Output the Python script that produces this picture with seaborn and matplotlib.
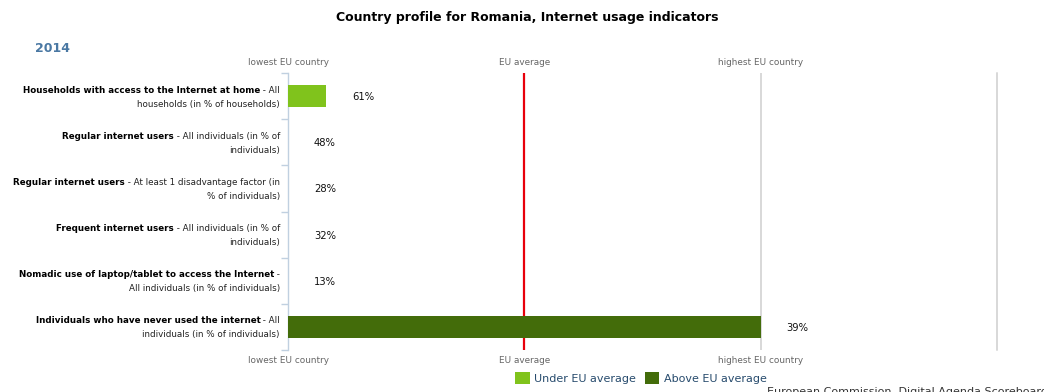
import numpy as np
import pandas as pd
import matplotlib
matplotlib.use("Agg")
import matplotlib.pyplot as plt
import matplotlib.transforms as mtransforms
import seaborn as sns

# Indicator titles (bold) and their breakdown text; "\n" marks the line wrap
indicator_titles = [
    "Households with access to the Internet at home",
    "Regular internet users",
    "Regular internet users",
    "Frequent internet users",
    "Nomadic use of laptop/tablet to access the Internet",
    "Individuals who have never used the internet",
]
indicator_breakdowns = [
    "All\nhouseholds (in % of households)",
    "All individuals (in % of\nindividuals)",
    "At least 1 disadvantage factor (in\n% of individuals)",
    "All individuals (in % of\nindividuals)",
    "\nAll individuals (in % of individuals)",
    "All\nindividuals (in % of individuals)",
]

# Romania's values and the EU reference points for each indicator (in %)
romania_values = [61, 48, 28, 32, 13, 39]
eu_lowest = [57, 48, 28, 32, 13, 3]
eu_average = [82, 75, 57, 65, 44, 18]
eu_highest = [96, 94, 87, 91, 73, 39]

scale_labels = ["lowest EU country", "EU average", "highest EU country"]
status_labels = ["Under EU average", "Above EU average"]
palette = {"Under EU average": "#80c31c", "Above EU average": "#436c0a"}


def scale_position(v, lo, avg, hi):
    """Place a value on the lowest(0) / average(1) / highest(2) scale."""
    if v <= avg:
        return 0.0 if avg == lo else (v - lo) / (avg - lo)
    return 1.0 + (v - avg) / (hi - avg)


df = pd.DataFrame({
    "row": np.arange(len(romania_values)),
    "value": romania_values,
})
df["position"] = [scale_position(v, lo, a, hi) for v, lo, a, hi in
                  zip(romania_values, eu_lowest, eu_average, eu_highest)]
df["status"] = [status_labels[0] if v < a else status_labels[1]
                for v, a in zip(romania_values, eu_average)]

sns.set_theme(style="white")
plt.rcParams["font.family"] = ["DejaVu Sans"]

W, H = 1044, 392
fig = plt.figure(figsize=(W / 100, H / 100), dpi=100)
ax = fig.add_axes([288 / W, 1 - 350 / H, (997 - 288) / W, (350 - 73) / H])

sns.barplot(data=df, x="position", y="row", hue="status", hue_order=status_labels,
            palette=palette, orient="h", dodge=False, width=0.48, saturation=1,
            linewidth=0, ax=ax, zorder=3)

ax.set_xlim(0, 3)
ax.set_ylim(5.5, -0.5)

# reference lines: EU average in red, highest and outer limit in grey
ax.axvline(1, color="#e8000b", lw=1.6, zorder=1)
ax.axvline(2, color="#d8d8d8", lw=1.4, zorder=1)
ax.axvline(3, color="#d8d8d8", lw=1.4, zorder=1, clip_on=False)

for s in ["top", "right", "bottom"]:
    ax.spines[s].set_visible(False)
ax.spines["left"].set_color("#c0d0e0")
ax.spines["left"].set_linewidth(1.0)

ax.set_yticks(np.arange(-0.5, 6, 1))
ax.set_yticklabels([])
ax.tick_params(axis="y", length=5, width=1.0, color="#c0d0e0", left=True)

ax.set_xticks([0, 1, 2])
ax.set_xticklabels(scale_labels)
ax.tick_params(axis="x", length=0, labeltop=True, labelbottom=True,
               labelsize=6.4, labelcolor="#666666", pad=4)
ax.set_xlabel("")
ax.set_ylabel("")
ax.grid(False)

# value labels next to each bar end
for i, (p, v) in enumerate(zip(df["position"], romania_values)):
    ax.annotate(f"{v}%", xy=(p, i), xytext=(26, -1), textcoords="offset pixels",
                ha="left", va="center", fontsize=7.2, color="#111111")

# two-line category labels with a bold title part
label_x = 280 / W
lab_fs = 6.35
base = mtransforms.blended_transform_factory(fig.transFigure, ax.transData)
fig.canvas.draw()
renderer = fig.canvas.get_renderer()
for i, (title, detail) in enumerate(zip(indicator_titles, indicator_breakdowns)):
    first, second = detail.split("\n")
    tr1 = mtransforms.offset_copy(base, fig=fig, x=0, y=6, units="dots")
    tr2 = mtransforms.offset_copy(base, fig=fig, x=0, y=-8, units="dots")
    tail = " - " + first if first else " -"
    t_tail = fig.text(label_x, i, tail, transform=tr1, ha="right", va="center",
                      fontsize=lab_fs, color="#222222")
    fig.text(label_x, i, second, transform=tr2, ha="right", va="center",
             fontsize=lab_fs, color="#222222")
    bb = t_tail.get_window_extent(renderer)
    fig.text(bb.x0 / fig.bbox.width, i, title, transform=tr1, ha="right",
             va="center", fontsize=lab_fs, fontweight="bold", color="#000000")

fig.text(527 / W, 1 - 17 / H, "Country profile for Romania, Internet usage indicators",
         ha="center", va="center", fontsize=9.0, fontweight="bold", color="#000000")
fig.text(35 / W, 1 - 49 / H, "2014", ha="left", va="center", fontsize=9.0,
         fontweight="bold", color="#4a78a3")

sns.move_legend(ax, "center", bbox_to_anchor=(641 / W, 1 - 378 / H),
                bbox_transform=fig.transFigure, ncol=2, frameon=False, title=None,
                fontsize=8, handlelength=1.3, handleheight=1.3,
                columnspacing=0.8, handletextpad=0.4, borderaxespad=0)
for t in ax.get_legend().get_texts():
    t.set_color("#274b6d")

fig.text(767 / W, 1 - 387 / H, "European Commission, Digital Agenda Scoreboard",
         ha="left", va="top", fontsize=8, color="#333333")

fig.savefig("out.png", dpi=100)
